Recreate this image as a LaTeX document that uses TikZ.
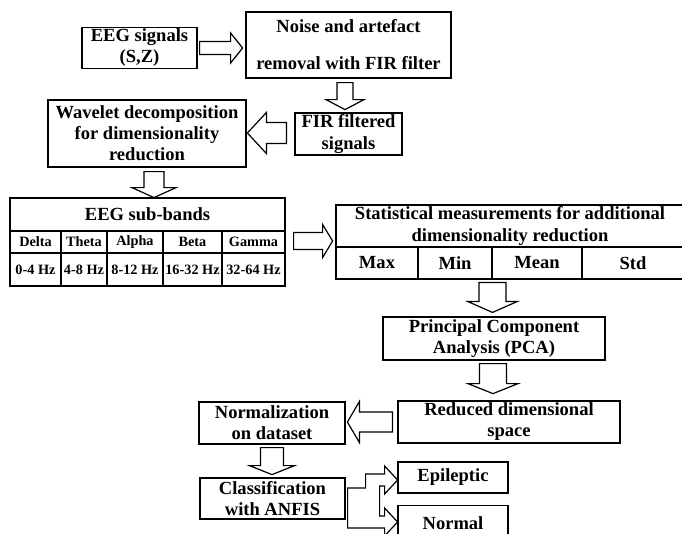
\documentclass[tikz,border=0pt]{standalone}
\usepackage{fontspec}
\setmainfont{Liberation Serif}
\usetikzlibrary{calc}

\tikzset{
  pics/blkarrow/.style args={#1/#2/#3/#4}{code={
    \draw[arrowline] (0,-#2) -- ({#1-#4},-#2) -- ({#1-#4},-#3) -- (#1,0)
      -- ({#1-#4},#3) -- ({#1-#4},#2) -- (0,#2) -- cycle;
  }}
}

\begin{document}
\begin{tikzpicture}[x=0.75pt,y=-0.75pt,line width=0.9pt,font=\fontsize{13.9}{15.8}\selectfont\bfseries]
		\tikzstyle{box}=[draw,align=center,inner sep=1pt]
		\tikzstyle{cell}=[draw,inner sep=0pt,font=\fontsize{10.7}{12}\selectfont\bfseries]
		\tikzstyle{arrowline}=[draw,fill=white,line join=miter]
		
		\useasboundingbox (0,0) rectangle (682,533);
		\fill[white] (0,0) rectangle (682,533);
		\clip (0,0) rectangle (682,533);
		
		\node[box,minimum width=86.25pt,minimum height=30pt] (sig) at (139.5,48) {EEG signals\\(S,Z)};
		\node[box,minimum width=153.75pt,minimum height=49.5pt] (noise) at (348.5,45) {Noise and artefact\\[12pt]removal with FIR filter};
		\node[box,minimum width=80.25pt,minimum height=31.5pt] (fir) at (348.5,134) {FIR filtered\\signals};
		\node[box,minimum width=148.5pt,minimum height=50.25pt] (wav) at (147,133.5) {Wavelet decomposition\\for dimensionality\\reduction};
		
		% sub-band table
		\node[box,inner sep=0pt,minimum width=206.25pt,minimum height=24.75pt] (bands) at (147.5,214.5) {EEG sub-bands};
		\foreach \name/\x/\w/\band/\freq in {del/35.5/38.25/Delta/0-4 Hz, the/84/34.5/Theta/4-8 Hz, alp/135/42/Alpha/8-12 Hz, bet/192.5/44.25/Beta/16-32 Hz, gam/253.5/47.25/Gamma/32-64 Hz}
		{
			\node[cell,minimum width=\w pt,minimum height=16.5pt] (\name) at (\x,242) {\band};
			\node[cell,minimum width=\w pt,minimum height=24.75pt] (\name f) at (\x,269.5) {\freq};
		}
		
		% statistics table
		\node[box,inner sep=0pt,minimum width=261pt,minimum height=31.5pt] (stat) at (510,226) {Statistical measurements for additional\\[1.4pt]dimensionality reduction};
		\foreach \name/\x/\w/\txt in {max/377/61.5/Max, min/455/55.5/Min, mean/537/67.5/Mean, std/633/76.5/Std}
			\node[box,inner sep=0pt,minimum width=\w pt,minimum height=24pt] (\name) at (\x,263) {\txt};
		
		\node[box,minimum width=166.5pt,minimum height=32.25pt] (pca) at (494,338.5) {Principal Component\\Analysis (PCA)};
		\node[box,minimum width=166.5pt,minimum height=31.5pt] (red) at (509,422) {Reduced dimensional\\space};
		\node[box,minimum width=109.5pt,minimum height=31.5pt] (norm) at (272,423) {Normalization\\on dataset};
		\node[box,minimum width=108.75pt,minimum height=30.75pt] (cls) at (272.5,498.5) {Classification\\with ANFIS};
		\node[box,minimum width=82.5pt,minimum height=23.25pt] (epi) at (453,477.5) {Epileptic};
		\node[box,minimum width=82.5pt,minimum height=26.25pt] (nor) at (453,523) {Normal};
		
		\pic at ($(sig.east)+(2,0)$) {blkarrow=43/6.5/15/12};
		\pic[rotate=-90] at ($(noise.south)+(-3.5,4)$) {blkarrow=27/8/19/10};
		\pic[rotate=180] at ($(fir.west)+(-8,-1)$) {blkarrow=39/10.5/20.5/19};
		\pic[rotate=-90] at ($(wav.south)+(7,4)$) {blkarrow=26/10/22/10};
		\pic at ($(gam.east)+(8,-1)$) {blkarrow=39/8.5/16.5/10};
		\pic[rotate=-90] at ($(pca.north)+(-1.5,-34)$) {blkarrow=30/13.5/25/11};
		\pic[rotate=-90] at ($(pca.south)+(-1,3)$) {blkarrow=30/13.5/25/10};
		\pic[rotate=180] at ($(red.west)+(-5,0)$) {blkarrow=45/10/20.5/12};
		\pic[rotate=-90] at ($(norm.south)+(0,3)$) {blkarrow=27/11.5/22.5/9};
		
		\draw[arrowline] (cls.east) ++(2,-10.5) -- ++(18,0) -- ++(0,-14) -- ++(19,0) -- ++(0,-8)
			-- ++(13,14) -- ++(-13,14) -- ++(0,-8) -- ++(-5,0) -- ++(0,30) -- ++(5,0) -- ++(0,-8)
			-- ++(13,14) -- ++(-13,14) -- ++(0,-8) -- ++(-37,0) -- cycle;

\end{tikzpicture}
\end{document}
